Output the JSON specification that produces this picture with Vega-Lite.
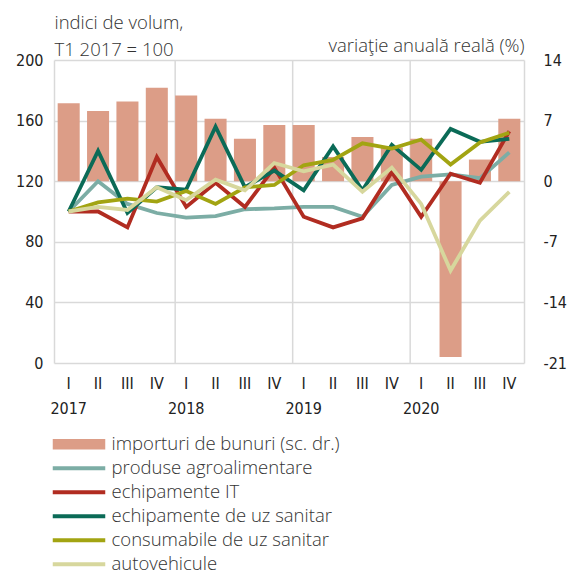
{
  "$schema": "https://vega.github.io/schema/vega-lite/v6.json",
  "width": 470,
  "height": 303,
  "autosize": {"type": "none"},
  "padding": {"left": 54, "top": 60, "right": 47, "bottom": 214},
  "background": "white",
  "config": {
    "view": {"stroke": null},
    "font": "Open Sans",
    "legend": {
      "orient": "none",
      "legendX": 15.75,
      "legendY": 375,
      "direction": "vertical",
      "title": null,
      "symbolType": "M-2.5,0H2.5",
      "symbolSize": 441,
      "symbolStrokeWidth": 4,
      "labelFont": "Open Sans",
      "labelFontSize": 18.5,
      "labelFontWeight": 300,
      "labelColor": "#333",
      "labelOffset": 23.25,
      "labelLimit": 400,
      "rowPadding": 5.0,
      "padding": 0
    }
  },
  "datasets": {
    "imp": [
      {"q": "2017-I", "s": "importuri de bunuri (sc. dr.)", "v": 9.0},
      {"q": "2017-II", "s": "importuri de bunuri (sc. dr.)", "v": 8.1},
      {"q": "2017-III", "s": "importuri de bunuri (sc. dr.)", "v": 9.2},
      {"q": "2017-IV", "s": "importuri de bunuri (sc. dr.)", "v": 10.8},
      {"q": "2018-I", "s": "importuri de bunuri (sc. dr.)", "v": 9.9},
      {"q": "2018-II", "s": "importuri de bunuri (sc. dr.)", "v": 7.2},
      {"q": "2018-III", "s": "importuri de bunuri (sc. dr.)", "v": 4.9},
      {"q": "2018-IV", "s": "importuri de bunuri (sc. dr.)", "v": 6.5},
      {"q": "2019-I", "s": "importuri de bunuri (sc. dr.)", "v": 6.5},
      {"q": "2019-II", "s": "importuri de bunuri (sc. dr.)", "v": 2.8},
      {"q": "2019-III", "s": "importuri de bunuri (sc. dr.)", "v": 5.1},
      {"q": "2019-IV", "s": "importuri de bunuri (sc. dr.)", "v": 3.9},
      {"q": "2020-I", "s": "importuri de bunuri (sc. dr.)", "v": 4.9},
      {"q": "2020-II", "s": "importuri de bunuri (sc. dr.)", "v": -20.3},
      {"q": "2020-III", "s": "importuri de bunuri (sc. dr.)", "v": 2.5},
      {"q": "2020-IV", "s": "importuri de bunuri (sc. dr.)", "v": 7.2}
    ],
    "years": [
      {"q": "2018-I"}, {"q": "2019-I"}, {"q": "2020-I"}
    ],
    "lines": [
      {"q": "2017-I", "s": "produse agroalimentare", "v": 100},
      {"q": "2017-II", "s": "produse agroalimentare", "v": 120},
      {"q": "2017-III", "s": "produse agroalimentare", "v": 105},
      {"q": "2017-IV", "s": "produse agroalimentare", "v": 99},
      {"q": "2018-I", "s": "produse agroalimentare", "v": 96},
      {"q": "2018-II", "s": "produse agroalimentare", "v": 97},
      {"q": "2018-III", "s": "produse agroalimentare", "v": 101.5},
      {"q": "2018-IV", "s": "produse agroalimentare", "v": 102},
      {"q": "2019-I", "s": "produse agroalimentare", "v": 103},
      {"q": "2019-II", "s": "produse agroalimentare", "v": 103},
      {"q": "2019-III", "s": "produse agroalimentare", "v": 96.5},
      {"q": "2019-IV", "s": "produse agroalimentare", "v": 117.5},
      {"q": "2020-I", "s": "produse agroalimentare", "v": 123},
      {"q": "2020-II", "s": "produse agroalimentare", "v": 124.5},
      {"q": "2020-III", "s": "produse agroalimentare", "v": 122},
      {"q": "2020-IV", "s": "produse agroalimentare", "v": 139},
      {"q": "2017-I", "s": "echipamente IT", "v": 100},
      {"q": "2017-II", "s": "echipamente IT", "v": 100},
      {"q": "2017-III", "s": "echipamente IT", "v": 89.5},
      {"q": "2017-IV", "s": "echipamente IT", "v": 136},
      {"q": "2018-I", "s": "echipamente IT", "v": 103},
      {"q": "2018-II", "s": "echipamente IT", "v": 119},
      {"q": "2018-III", "s": "echipamente IT", "v": 103},
      {"q": "2018-IV", "s": "echipamente IT", "v": 129},
      {"q": "2019-I", "s": "echipamente IT", "v": 96.5},
      {"q": "2019-II", "s": "echipamente IT", "v": 89.5},
      {"q": "2019-III", "s": "echipamente IT", "v": 95.5},
      {"q": "2019-IV", "s": "echipamente IT", "v": 126},
      {"q": "2020-I", "s": "echipamente IT", "v": 96.5},
      {"q": "2020-II", "s": "echipamente IT", "v": 125},
      {"q": "2020-III", "s": "echipamente IT", "v": 119},
      {"q": "2020-IV", "s": "echipamente IT", "v": 153},
      {"q": "2017-I", "s": "echipamente de uz sanitar", "v": 100},
      {"q": "2017-II", "s": "echipamente de uz sanitar", "v": 140},
      {"q": "2017-III", "s": "echipamente de uz sanitar", "v": 99},
      {"q": "2017-IV", "s": "echipamente de uz sanitar", "v": 116},
      {"q": "2018-I", "s": "echipamente de uz sanitar", "v": 114.5},
      {"q": "2018-II", "s": "echipamente de uz sanitar", "v": 156},
      {"q": "2018-III", "s": "echipamente de uz sanitar", "v": 116},
      {"q": "2018-IV", "s": "echipamente de uz sanitar", "v": 127},
      {"q": "2019-I", "s": "echipamente de uz sanitar", "v": 114},
      {"q": "2019-II", "s": "echipamente de uz sanitar", "v": 143},
      {"q": "2019-III", "s": "echipamente de uz sanitar", "v": 114},
      {"q": "2019-IV", "s": "echipamente de uz sanitar", "v": 144},
      {"q": "2020-I", "s": "echipamente de uz sanitar", "v": 127.5},
      {"q": "2020-II", "s": "echipamente de uz sanitar", "v": 154.5},
      {"q": "2020-III", "s": "echipamente de uz sanitar", "v": 146},
      {"q": "2020-IV", "s": "echipamente de uz sanitar", "v": 148},
      {"q": "2017-I", "s": "consumabile de uz sanitar", "v": 100},
      {"q": "2017-II", "s": "consumabile de uz sanitar", "v": 106},
      {"q": "2017-III", "s": "consumabile de uz sanitar", "v": 108.5},
      {"q": "2017-IV", "s": "consumabile de uz sanitar", "v": 106.5},
      {"q": "2018-I", "s": "consumabile de uz sanitar", "v": 113.5},
      {"q": "2018-II", "s": "consumabile de uz sanitar", "v": 105},
      {"q": "2018-III", "s": "consumabile de uz sanitar", "v": 116},
      {"q": "2018-IV", "s": "consumabile de uz sanitar", "v": 117.5},
      {"q": "2019-I", "s": "consumabile de uz sanitar", "v": 130.5},
      {"q": "2019-II", "s": "consumabile de uz sanitar", "v": 134},
      {"q": "2019-III", "s": "consumabile de uz sanitar", "v": 145},
      {"q": "2019-IV", "s": "consumabile de uz sanitar", "v": 141.5},
      {"q": "2020-I", "s": "consumabile de uz sanitar", "v": 147.5},
      {"q": "2020-II", "s": "consumabile de uz sanitar", "v": 131},
      {"q": "2020-III", "s": "consumabile de uz sanitar", "v": 145.5},
      {"q": "2020-IV", "s": "consumabile de uz sanitar", "v": 152},
      {"q": "2017-I", "s": "autovehicule", "v": 100},
      {"q": "2017-II", "s": "autovehicule", "v": 103},
      {"q": "2017-III", "s": "autovehicule", "v": 101},
      {"q": "2017-IV", "s": "autovehicule", "v": 116},
      {"q": "2018-I", "s": "autovehicule", "v": 107.5},
      {"q": "2018-II", "s": "autovehicule", "v": 121},
      {"q": "2018-III", "s": "autovehicule", "v": 114},
      {"q": "2018-IV", "s": "autovehicule", "v": 132},
      {"q": "2019-I", "s": "autovehicule", "v": 126.5},
      {"q": "2019-II", "s": "autovehicule", "v": 131},
      {"q": "2019-III", "s": "autovehicule", "v": 113},
      {"q": "2019-IV", "s": "autovehicule", "v": 129},
      {"q": "2020-I", "s": "autovehicule", "v": 105},
      {"q": "2020-II", "s": "autovehicule", "v": 61},
      {"q": "2020-III", "s": "autovehicule", "v": 94},
      {"q": "2020-IV", "s": "autovehicule", "v": 113}
    ]
  },
  "encoding": {
    "x": {
      "field": "q",
      "type": "nominal",
      "scale": {
        "domain": ["2017-I","2017-II","2017-III","2017-IV","2018-I","2018-II","2018-III","2018-IV","2019-I","2019-II","2019-III","2019-IV","2020-I","2020-II","2020-III","2020-IV"],
        "paddingInner": 0.25,
        "paddingOuter": 0.125
      },
      "axis": {
        "title": null,
        "domain": false,
        "ticks": false,
        "grid": false,
        "labelAngle": 0,
        "labelFont": "DejaVu Sans Condensed",
        "labelFontSize": 16,
        "labelColor": "#222",
        "labelPadding": 12,
        "labelLineHeight": 25,
        "labelExpr": "split(datum.value,'-')[1] == 'I' ? [split(datum.value,'-')[1], split(datum.value,'-')[0]] : split(datum.value,'-')[1]"
      }
    }
  },
  "layer": [
    {
      "data": {"name": "years"},
      "mark": {"type": "rule", "color": "#d9d9d9", "strokeWidth": 1.5},
      "encoding": {
        "x": {"field": "q", "type": "nominal", "bandPosition": 0}
      }
    },
    {
      "data": {"name": "imp"},
      "mark": {"type": "bar"},
      "encoding": {
        "y": {
          "field": "v",
          "type": "quantitative",
          "scale": {"domain": [-21, 14], "nice": false, "zero": false},
          "axis": {
            "orient": "right",
            "values": [-21, -14, -7, 0, 7, 14],
            "labelExpr": "datum.value + ''",
            "grid": false,
            "ticks": false,
            "domain": true,
            "domainColor": "#d9d9d9",
            "domainWidth": 1.5,
            "labelFont": "DejaVu Sans Condensed",
            "labelFontSize": 16,
            "labelColor": "#222",
            "labelPadding": 19,
            "labelAlign": "left",
            "title": "variaţie anuală reală (%)",
            "titleAngle": 0,
            "titleAlign": "right",
            "titleBaseline": "alphabetic",
            "titleX": 0,
            "titleY": -9,
            "titleFont": "Open Sans",
            "titleFontSize": 18.5,
            "titleFontWeight": 300,
            "titleColor": "#333"
          }
        },
        "y2": {"datum": 0},
        "color": {
          "field": "s",
          "type": "nominal",
          "scale": {
            "domain": ["importuri de bunuri (sc. dr.)", "produse agroalimentare", "echipamente IT", "echipamente de uz sanitar", "consumabile de uz sanitar", "autovehicule"],
            "range": ["#dc9d87", "#7cada5", "#b12c21", "#0b6b57", "#a2a412", "#d7d79d"]
          },
          "legend": {
            "encode": {
              "symbols": {
                "update": {
                  "shape": {"signal": "datum.value == 'importuri de bunuri (sc. dr.)' ? 'M-2.5,-0.5H2.5V0.5H-2.5Z' : 'M-2.5,0H2.5'"},
                  "stroke": {"signal": "datum.value == 'importuri de bunuri (sc. dr.)' ? 'transparent' : scale('color', datum.value)"},
                  "fill": {"signal": "datum.value == 'importuri de bunuri (sc. dr.)' ? scale('color', datum.value) : 'transparent'"},
                  "strokeWidth": {"signal": "datum.value == 'importuri de bunuri (sc. dr.)' ? 0 : 4"}
                }
              }
            }
          }
        }
      }
    },
    {
      "data": {"name": "lines"},
      "mark": {"type": "line", "strokeWidth": 3.8, "strokeJoin": "miter"},
      "encoding": {
        "y": {
          "field": "v",
          "type": "quantitative",
          "scale": {"domain": [0, 200], "nice": false},
          "axis": {
            "orient": "left",
            "values": [0, 40, 80, 120, 160, 200],
            "grid": true,
            "gridColor": "#d9d9d9",
            "gridWidth": 1.5,
            "ticks": false,
            "domain": true,
            "domainColor": "#d9d9d9",
            "domainWidth": 1.5,
            "labelFont": "DejaVu Sans Condensed",
            "labelFontSize": 16,
            "labelColor": "#222",
            "labelPadding": 11,
            "title": ["indici de volum,", "T1 2017 = 100"],
            "titleAngle": 0,
            "titleAlign": "left",
            "titleBaseline": "alphabetic",
            "titleX": 0,
            "titleY": -32,
            "titleLineHeight": 27,
            "titleFont": "Open Sans",
            "titleFontSize": 18.5,
            "titleFontWeight": 300,
            "titleColor": "#333"
          }
        },
        "color": {
          "field": "s",
          "type": "nominal",
          "legend": {
            "encode": {
              "symbols": {
                "update": {
                  "shape": {"signal": "datum.value == 'importuri de bunuri (sc. dr.)' ? 'M-2.5,-0.5H2.5V0.5H-2.5Z' : 'M-2.5,0H2.5'"},
                  "stroke": {"signal": "datum.value == 'importuri de bunuri (sc. dr.)' ? 'transparent' : scale('color', datum.value)"},
                  "fill": {"signal": "datum.value == 'importuri de bunuri (sc. dr.)' ? scale('color', datum.value) : 'transparent'"},
                  "strokeWidth": {"signal": "datum.value == 'importuri de bunuri (sc. dr.)' ? 0 : 4"}
                }
              }
            }
          }
        }
      }
    }
  ],
  "resolve": {"scale": {"y": "independent"}}
}
